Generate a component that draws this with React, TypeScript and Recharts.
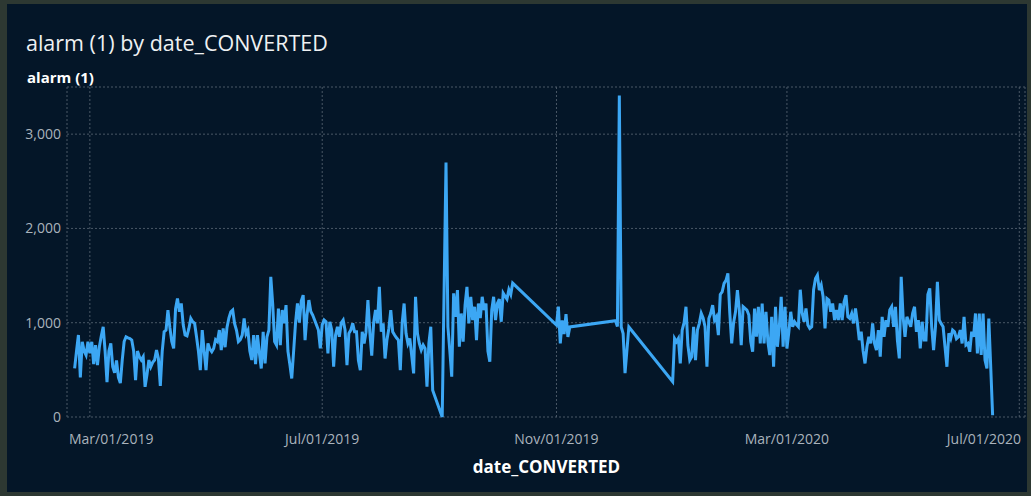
import React from "react";
import { CartesianGrid, Line, LineChart, XAxis, YAxis } from "recharts";

// daily counts, each run is a block of consecutive days starting at runStarts[i]
const runStarts = ["2019-02-21", "2019-09-02", "2019-09-04", "2019-11-01", "2019-12-02", "2019-12-09", "2020-01-01"];

const run1 = [
  515, 700, 870, 420, 798, 700, 657, 798, 675, 798,
  560, 763, 550, 745, 860, 957, 700, 370, 700, 780,
  533, 470, 600, 420, 360, 604, 800, 851, 840, 833,
  816, 700, 391, 700, 639, 604, 639, 320, 450, 604,
  533, 580, 604, 710, 620, 330, 700, 904, 922, 1134,
  950, 800, 727, 1150, 1257, 1116, 1204, 980, 870, 860,
  939, 1045, 1010, 993, 851, 700, 497, 922, 700, 497,
  780, 720, 692, 727, 820, 800, 922, 710, 939, 740,
  950, 1050, 1116, 1134, 990, 920, 800, 820, 869, 1045,
  880, 920, 700, 604, 869, 560, 869, 680, 515, 904,
  568, 851, 922, 1487, 1200, 800, 763, 1151, 763, 1134,
  993, 1187, 700, 560, 409, 700, 1000, 1204, 1000, 1230,
  1293, 816, 1081, 1240, 1120, 1081, 1028, 975, 922, 727,
  980, 1028, 1010, 675, 1010, 922, 533, 869, 957, 851,
  1000, 1028, 922, 550, 887, 922, 993, 904, 904, 600,
  497, 904, 780, 900, 1240, 900, 650, 1000, 1134, 993,
  1381, 904, 993, 620, 820, 939, 1134, 904, 869, 840,
  816, 497, 1000, 1204, 887, 780, 833, 650, 462, 1275,
  887, 780, 710, 763, 727, 321, 780, 957, 285,
];
const run2 = [0];
const run3 = [
  2700, 957, 700, 428, 1311, 1063, 1346, 745, 1098, 800,
  1187, 1381, 993, 1275, 1028, 1169, 816, 1204, 1050, 1275,
  1134, 1204, 700, 586, 1134, 1275, 1028, 1204, 1250, 1010,
  1314, 1280, 1250, 1350, 1300, 1420,
];
const run4 = [975, 1170, 780, 1025, 880, 1090, 850, 955];
const run5 = [1021, 960, 3410, 955, 885, 465];
const run6 = [955];
const run7 = [
  374, 833, 798, 833, 568, 922,
  1000, 1169, 763, 604, 639, 957, 604, 922, 993, 1100,
  1050, 957, 533, 1045, 1100, 1187, 1028, 1063, 869, 1300,
  1328, 1417, 1450, 1523, 1100, 780, 1000, 1116, 1346, 1134,
  763, 1169, 1151, 1134, 1081, 800, 692, 1150, 851, 1169,
  780, 1204, 780, 1116, 800, 657, 1063, 533, 1169, 745,
  957, 1275, 745, 1169, 727,
  900, 1116, 957, 1010, 980,
  957, 1350, 1100, 1010, 1151, 975, 939, 957, 1350, 1470,
  1505, 1346, 1399, 1275, 939, 1257, 1240, 1116, 1204, 1028,
  1134, 1028, 1204, 1028, 1222, 1293, 1063, 1045, 1098, 993,
  1151, 1000, 816, 904, 700, 568, 745, 851, 780, 993,
  780, 710, 922, 639, 1063, 851, 1028, 957, 1134, 1169,
  957, 1169, 816, 621, 1487, 1063, 851, 1063, 1010, 957,
  1100, 1169, 904, 1028, 727, 1010, 816, 816, 1300,
  1364, 957, 710, 957, 1434, 1028, 990, 957, 745, 533,
  887, 833, 922, 904, 830, 850, 922, 780, 1063, 763,
  780, 692, 904, 851, 1098, 675, 1098, 657, 1098, 604,
  515, 1045, 533, 18,
];
const runs = [run1, run2, run3, run4, run5, run6, run7];

const yTicks = [0, 1000, 2000, 3000];
const xTickDates = ["2019-03-01", "2019-07-01", "2019-11-01", "2020-03-01", "2020-07-01"];
const xDomainDates = ["2019-02-17", "2020-07-04"];
const monthNames = ["Jan", "Feb", "Mar", "Apr", "May", "Jun", "Jul", "Aug", "Sep", "Oct", "Nov", "Dec"];

const DAY = 86400000;
const toTime = (s: string) => {
  const [y, m, d] = s.split("-").map(Number);
  return Date.UTC(y, m - 1, d);
};

const data = runs.flatMap((run, r) =>
  run.map((v, i) => ({ t: toTime(runStarts[r]) + i * DAY, alarm: v }))
);

const fmtDate = (t: number) => {
  const d = new Date(t);
  return `${monthNames[d.getUTCMonth()]}/${String(d.getUTCDate()).padStart(2, "0")}/${d.getUTCFullYear()}`;
};

const W = 1031;
const H = 496;
const PLOT_LEFT = 67;
const PLOT_RIGHT = 1025;
const FONT = "'Open Sans', sans-serif";
const TICK_COLOR = "#aab3bc";

const XTick = (props: any) => {
  const { x, payload } = props;
  const half = 42;
  let tx = x;
  let anchor = "middle";
  if (x - half < PLOT_LEFT) {
    tx = PLOT_LEFT + 2;
    anchor = "start";
  } else if (x + half > PLOT_RIGHT) {
    tx = PLOT_RIGHT - 4;
    anchor = "end";
  }
  return (
    <text x={tx} y={444} textAnchor={anchor} fill={TICK_COLOR} fontSize={14} fontFamily={FONT}>
      {fmtDate(payload.value)}
    </text>
  );
};

const YTick = (props: any) => {
  const { y, payload } = props;
  return (
    <text x={61} y={y + 5} textAnchor="end" fill={TICK_COLOR} fontSize={14} fontFamily={FONT}>
      {payload.value.toLocaleString("en-US")}
    </text>
  );
};

export default function App() {
  return (
    <div style={{ position: "absolute", left: 0, top: 0, width: W, height: H, background: "#2d3832" }}>
      <div
        style={{
          position: "absolute",
          left: 7,
          top: 4,
          width: 1020,
          height: 488,
          background: "#041628",
        }}
      />
      <div
        style={{
          position: "absolute",
          left: 26,
          top: 28,
          color: "#eef1f3",
          fontFamily: FONT,
          fontSize: 21.5,
          whiteSpace: "nowrap",
        }}
      >
        alarm (1) by date_CONVERTED
      </div>
      <div
        style={{
          position: "absolute",
          left: 27,
          top: 67,
          color: "#ffffff",
          fontFamily: FONT,
          fontSize: 15,
          fontWeight: 700,
          whiteSpace: "nowrap",
        }}
      >
        alarm (1)
      </div>
      <div
        style={{
          position: "absolute",
          left: 0,
          width: W,
          top: 455,
          textAlign: "center",
          paddingLeft: 62,
          boxSizing: "border-box",
          color: "#ffffff",
          fontFamily: FONT,
          fontSize: 17,
          fontWeight: 700,
        }}
      >
        date_CONVERTED
      </div>
      <div style={{ position: "absolute", left: 0, top: 0 }}>
        <LineChart width={W} height={H} data={data} margin={{ top: 87, right: W - PLOT_RIGHT, bottom: 49, left: 0 }}>
          <CartesianGrid stroke="#4a5866" strokeDasharray="2 2" />
          <XAxis
            dataKey="t"
            type="number"
            scale="time"
            domain={[toTime(xDomainDates[0]), toTime(xDomainDates[1])]}
            ticks={xTickDates.map(toTime)}
            tick={<XTick />}
            axisLine={false}
            tickLine={false}
            height={30}
            interval={0}
          />
          <YAxis
            type="number"
            domain={[0, 3500]}
            ticks={yTicks}
            tick={<YTick />}
            axisLine={false}
            tickLine={false}
            width={PLOT_LEFT}
            interval={0}
          />
          <Line
            type="linear"
            dataKey="alarm"
            stroke="#3ca7f4"
            strokeWidth={3}
            dot={false}
            isAnimationActive={false}
          />
        </LineChart>
      </div>
    </div>
  );
}
